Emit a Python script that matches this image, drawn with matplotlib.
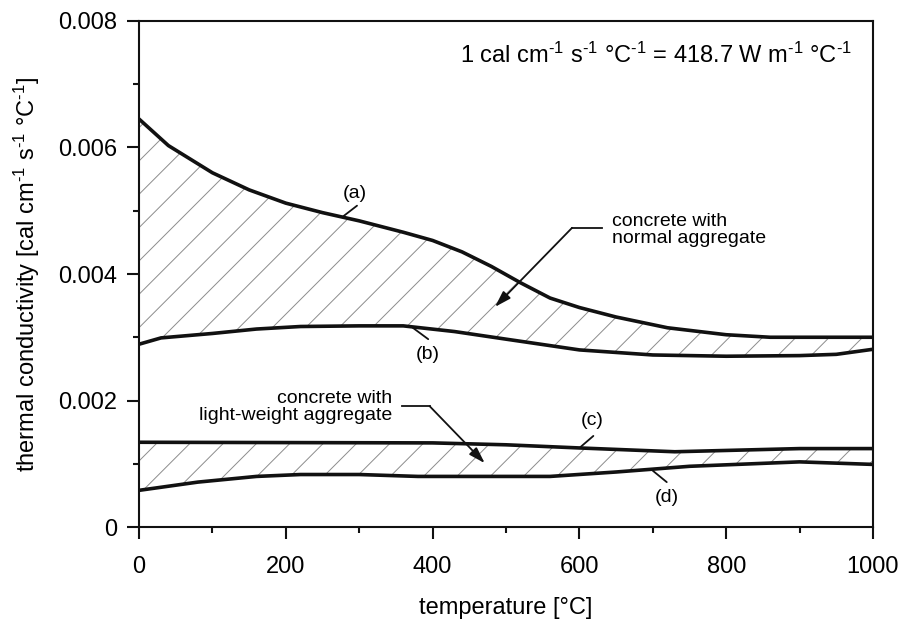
import numpy as np
import matplotlib
matplotlib.use('Agg')
import matplotlib.pyplot as plt

plt.rcParams['font.family'] = ['Liberation Sans', 'DejaVu Sans']
plt.rcParams['mathtext.fontset'] = 'custom'
plt.rcParams['mathtext.rm'] = 'Liberation Sans'
plt.rcParams['mathtext.it'] = 'Liberation Sans:italic'
plt.rcParams['hatch.linewidth'] = 0.7

# curve (a): upper bound, normal aggregate
temp_a = [0, 40, 100, 150, 200, 250, 300, 360, 400, 440, 480, 520, 560, 600, 650, 720, 800, 860, 1000]
cond_a = [0.00645, 0.00603, 0.0056, 0.00533, 0.00512, 0.00497, 0.00484, 0.00466,
          0.00453, 0.00435, 0.00412, 0.00386, 0.00362, 0.00347, 0.00332, 0.00315,
          0.00304, 0.0030, 0.0030]
# curve (b): lower bound, normal aggregate
temp_b = [0, 30, 100, 160, 220, 300, 360, 430, 500, 600, 700, 800, 900, 950, 1000]
cond_b = [0.00289, 0.00299, 0.00306, 0.00313, 0.00317, 0.00318, 0.00318, 0.00309,
          0.00297, 0.0028, 0.00272, 0.0027, 0.00271, 0.00273, 0.00281]
# curve (c): upper bound, light-weight aggregate
temp_c = [0, 400, 500, 600, 730, 900, 1000]
cond_c = [0.00134, 0.00133, 0.0013, 0.00125, 0.00119, 0.00124, 0.00124]
# curve (d): lower bound, light-weight aggregate
temp_d = [0, 80, 160, 220, 300, 380, 560, 650, 750, 900, 1000]
cond_d = [0.00058, 0.00071, 0.0008, 0.00083, 0.00083, 0.0008, 0.0008, 0.00087,
          0.00096, 0.00103, 0.00099]

sup = r'$^{\text{-1}}$'

fig = plt.figure(figsize=(9.04, 6.26), dpi=100)
ax = fig.add_axes([0.1538, 0.1581, 0.8119, 0.8084])

hatch_gray = '#8c8c8c'
ax.fill(np.concatenate([temp_a, temp_b[::-1]]), np.concatenate([cond_a, cond_b[::-1]]),
        facecolor='none', edgecolor=hatch_gray, hatch='/', linewidth=0)
ax.fill(np.concatenate([temp_c, temp_d[::-1]]), np.concatenate([cond_c, cond_d[::-1]]),
        facecolor='none', edgecolor=hatch_gray, hatch='/', linewidth=0)

for t, c in [(temp_a, cond_a), (temp_b, cond_b), (temp_c, cond_c), (temp_d, cond_d)]:
    ax.plot(t, c, color='#111111', lw=2.6, solid_joinstyle='round')

ax.set_xlim(0, 1000)
ax.set_ylim(0, 0.008)
ax.set_xticks([0, 200, 400, 600, 800, 1000])
ax.set_xticks([100, 300, 500, 700, 900], minor=True)
ax.set_yticks([0, 0.002, 0.004, 0.006, 0.008])
ax.set_yticks([0.001, 0.003, 0.005, 0.007], minor=True)
ax.set_yticklabels(['0', '0.002', '0.004', '0.006', '0.008'])
ax.tick_params(which='major', direction='out', length=8.5, width=1.5, labelsize=17, color='#111111')
ax.tick_params(which='minor', direction='out', length=4.3, width=1.5, color='#111111')
ax.tick_params(axis='y', pad=7)
ax.tick_params(axis='x', pad=12)
for s in ax.spines.values():
    s.set_linewidth(1.5)
    s.set_color('#111111')

ax.set_xlabel('temperature [°C]', fontsize=17, labelpad=14)
ax.set_ylabel('thermal conductivity [cal cm' + sup + ' s' + sup + ' °C' + sup + ']',
              fontsize=17, labelpad=12)

ax.text(971, 0.00745, '1 cal cm' + sup + ' s' + sup + ' °C' + sup + ' = 418.7 W m' + sup + ' °C' + sup,
        fontsize=17, ha='right', va='center')

# curve labels with short leader lines
lead = dict(arrowstyle='-', color='#111111', lw=1.3, shrinkA=0, shrinkB=0)
labels = ['(a)', '(b)', '(c)', '(d)']
label_pos = [(294, 0.00528), (394, 0.00272), (618, 0.00169), (719, 0.00047)]
lead_from = [(297, 0.00508), (394, 0.00297), (619, 0.00144), (719, 0.00071)]
lead_to = [(278, 0.00491), (373, 0.00315), (601, 0.00126), (700, 0.00089)]
for lab, p, f, t in zip(labels, label_pos, lead_from, lead_to):
    ax.text(p[0], p[1], lab, fontsize=14, ha='center', va='center')
    ax.annotate('', xy=t, xytext=f, arrowprops=lead)

arrow = dict(arrowstyle='-|>,head_length=0.7,head_width=0.22', color='#111111',
             lw=1.3, shrinkA=0, shrinkB=0, mutation_scale=14)

ax.text(644, 0.00470, 'concrete with\nnormal aggregate', fontsize=14,
        ha='left', va='center', linespacing=1.0)
ax.plot([631, 590], [0.00473, 0.00473], color='#111111', lw=1.3)
ax.annotate('', xy=(485, 0.00348), xytext=(590, 0.00473), arrowprops=arrow)

ax.text(345, 0.0019, 'concrete with\nlight-weight aggregate', fontsize=14,
        ha='right', va='center', multialignment='right', linespacing=1.0)
ax.plot([358, 396], [0.00191, 0.00191], color='#111111', lw=1.3)
ax.annotate('', xy=(471, 0.00101), xytext=(396, 0.00191), arrowprops=arrow)

fig.savefig('out.png', dpi=100)
